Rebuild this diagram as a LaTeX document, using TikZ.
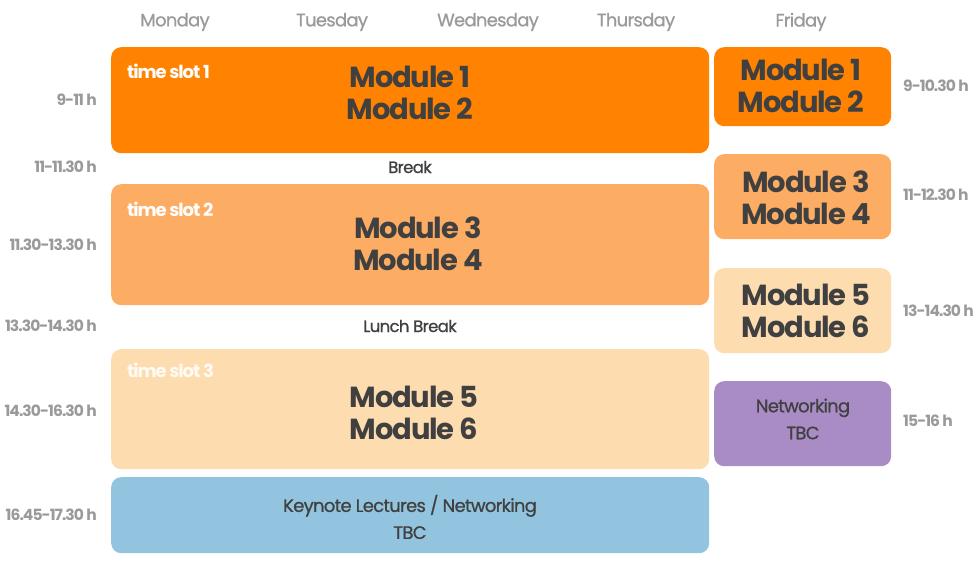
\documentclass[tikz,border=0pt]{standalone}
\usepackage{fontspec}
\setmainfont{Poppins}[LetterSpace=-4]
\newfontfamily\tightfont{Poppins}[LetterSpace=-6]
\newfontfamily\medfont{Poppins}[LetterSpace=-4, FakeBold=0.8]
\usetikzlibrary{positioning}
\definecolor{cA}{HTML}{FF8200}
\definecolor{cB}{HTML}{FDAC64}
\definecolor{cC}{HTML}{FDDCB0}
\definecolor{cKey}{HTML}{92C4E0}
\definecolor{cNet}{HTML}{A98CC6}
\definecolor{txt}{HTML}{404040}
\definecolor{lbl}{HTML}{9A9A9A}
\tikzset{
  slot/.style={rectangle, rounded corners=10pt, draw=none, anchor=north west, inner sep=0pt},
  modtxt/.style={text=txt, font=\bfseries\fontsize{29}{32}\selectfont, align=center, inner sep=0pt},
  smalltxt/.style={text=txt, font=\medfont\fontsize{18}{27}\selectfont, align=center, inner sep=0pt},
  day/.style={text=lbl, font=\medfont\fontsize{18}{20}\selectfont, inner sep=0pt},
  tleft/.style={text=lbl, font=\tightfont\bfseries\fontsize{15.5}{20}\selectfont, anchor=east, inner sep=0pt},
  tright/.style={text=lbl, font=\tightfont\bfseries\fontsize{15.5}{20}\selectfont, anchor=west, inner sep=0pt},
  slotlbl/.style={text=white, font=\tightfont\bfseries\fontsize{18}{20}\selectfont, anchor=west, inner sep=0pt},
}
\begin{document}
\begin{tikzpicture}[x=1pt,y=-1pt]
\useasboundingbox (0,0) rectangle (980,561);
% day headers
\node[day] (mon) at (175,22) {Monday};
\node[day] (tue) at (332,22) {Tuesday};
\node[day] (wed) at (488,22) {Wednesday};
\node[day] (thu) at (636,22) {Thursday};
\node[day] (fri) at (801,22) {Friday};
% main slots
\node[slot, fill=cA, minimum width=598pt, minimum height=106pt] (s1) at (111,47) {};
\node[slot, fill=cB, minimum width=598pt, minimum height=121pt] (s2) at (111,184) {};
\node[slot, fill=cC, minimum width=598pt, minimum height=120pt] (s3) at (111,349) {};
\node[slot, fill=cKey, minimum width=598pt, minimum height=76pt] (s4) at (111,477) {};
% friday slots
\node[slot, fill=cA, minimum width=177pt, minimum height=79pt] (f1) at (714,47) {};
\node[slot, fill=cB, minimum width=177pt, minimum height=85pt] (f2) at (714,154) {};
\node[slot, fill=cC, minimum width=177pt, minimum height=85pt] (f3) at (714,268) {};
\node[slot, fill=cNet, minimum width=177pt, minimum height=85pt] (f4) at (714,381) {};
% slot labels
\node[slotlbl] (l1) at (127,71) {time slot 1};
\node[slotlbl] (l2) at (127,209) {time slot 2};
\node[slotlbl, text=white!85!cC] (l3) at (127,370) {time slot 3};
% module texts
\node[modtxt] (m12) at (410,93) {Module 1\\Module 2};
\node[modtxt] (m34) at (418,244) {Module 3\\Module 4};
\node[modtxt] (m56) at (414,413) {Module 5\\Module 6};
\node[smalltxt] (key) at (410,517) {Keynote Lectures / Networking\\TBC};
\node[modtxt] (fm12) at (801,86) {Module 1\\Module 2};
\node[modtxt] (fm34) at (806,198) {Module 3\\Module 4};
\node[modtxt] (fm56) at (806,311) {Module 5\\Module 6};
\node[smalltxt] (net) at (803,419) {Networking\\TBC};
% breaks
\node[smalltxt, font=\medfont\fontsize{16.5}{20}\selectfont] (brk) at (410,167) {Break};
\node[smalltxt, font=\medfont\fontsize{16.5}{20}\selectfont] (lun) at (410,326) {Lunch Break};
% left times
\node[tleft] (t1) at (97,100) {9-11 h};
\node[tleft] (t2) at (97,167) {11-11.30 h};
\node[tleft] (t3) at (97,245) {11.30-13.30 h};
\node[tleft] (t4) at (97,326) {13.30-14.30 h};
\node[tleft] (t5) at (97,411) {14.30-16.30 h};
\node[tleft] (t6) at (97,515) {16.45-17.30 h};
% right times
\node[tright] (r1) at (903,86) {9-10.30 h};
\node[tright] (r2) at (903,195) {11-12.30 h};
\node[tright] (r3) at (903,311) {13-14.30 h};
\node[tright] (r4) at (903,421) {15-16 h};
\end{tikzpicture}
\end{document}
